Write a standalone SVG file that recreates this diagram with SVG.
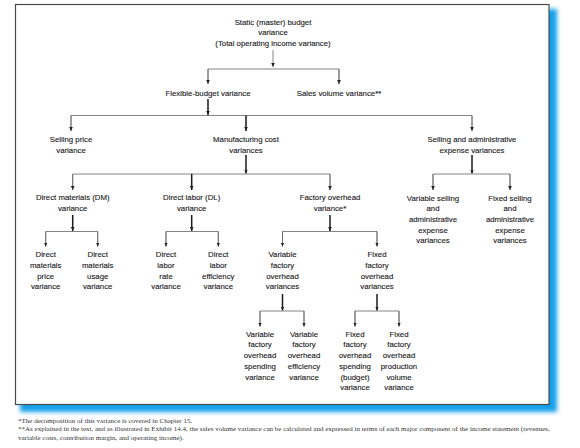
<svg xmlns="http://www.w3.org/2000/svg" width="580" height="448" viewBox="0 0 580 448">
<defs>
<filter id="blur" x="-5%" y="-5%" width="110%" height="110%"><feGaussianBlur stdDeviation="2.2"/></filter>
<marker id="ah" viewBox="0 0 4 4" refX="4" refY="2" markerWidth="4" markerHeight="4" markerUnits="userSpaceOnUse" orient="auto"><path d="M0,0.2 L4,2 L0,3.8 z" fill="#222"/></marker>
</defs>
<style>
.t{font-family:"Liberation Sans",Arial,sans-serif;font-size:7.8px;fill:#1a1a1a;text-anchor:middle;stroke:#1a1a1a;stroke-width:0.12}
.f{font-family:"Liberation Serif","Times New Roman",serif;font-size:7px;fill:#333}
.thin{stroke:#666;stroke-width:0.8;fill:none}
.thick{stroke:#1a1a1a;stroke-width:1.5;fill:none}
.arr{marker-end:url(#ah)}
</style>
<rect width="580" height="448" fill="#fff"/>
<rect x="20" y="9" width="537" height="403" fill="#14a0ea" filter="url(#blur)"/>
<rect x="15.5" y="4.5" width="533.5" height="400" fill="#fff" stroke="#4a4a4a" stroke-width="1.2"/>

<g id="connectors">
<line class="thin arr" x1="273" y1="50" x2="273" y2="67"/>
<path class="thin" d="M208,84 V69 H339 V84"/>
<line class="thin arr" x1="208" y1="69" x2="208" y2="84"/>
<line class="thin arr" x1="339" y1="69" x2="339" y2="84"/>
<line class="thick arr" x1="208" y1="99" x2="208" y2="115"/>
<path class="thin" d="M71,131 V115.5 H472 V131"/>
<line class="thin arr" x1="71" y1="115.5" x2="71" y2="131"/>
<line class="thick arr" x1="246" y1="115.5" x2="246" y2="131"/>
<line class="thin arr" x1="472" y1="115.5" x2="472" y2="131"/>
<line class="thick arr" x1="246" y1="155" x2="246" y2="173.5"/>
<line class="thick arr" x1="472" y1="155" x2="472" y2="173.5"/>
<path class="thin" d="M72.7,190 V174 H330 V190"/>
<line class="thin arr" x1="72.7" y1="174" x2="72.7" y2="190"/>
<line class="thick arr" x1="191.7" y1="174" x2="191.7" y2="190"/>
<line class="thin arr" x1="330" y1="174" x2="330" y2="190"/>
<path class="thin" d="M433,190 V174 H510 V190"/>
<line class="thin arr" x1="433" y1="174" x2="433" y2="190"/>
<line class="thin arr" x1="510" y1="174" x2="510" y2="190"/>
<line class="thick arr" x1="72.7" y1="215" x2="72.7" y2="231"/>
<line class="thick arr" x1="191.7" y1="215" x2="191.7" y2="231"/>
<line class="thick arr" x1="330" y1="215" x2="330" y2="231"/>
<path class="thin" d="M45.7,246.5 V231.5 H97.7 V246.5"/>
<line class="thin arr" x1="45.7" y1="231.5" x2="45.7" y2="246.5"/>
<line class="thin arr" x1="97.7" y1="231.5" x2="97.7" y2="246.5"/>
<path class="thin" d="M166,246.5 V231.5 H218.3 V246.5"/>
<line class="thin arr" x1="166" y1="231.5" x2="166" y2="246.5"/>
<line class="thin arr" x1="218.3" y1="231.5" x2="218.3" y2="246.5"/>
<path class="thin" d="M282.5,246.5 V231.5 H377 V246.5"/>
<line class="thin arr" x1="282.5" y1="231.5" x2="282.5" y2="246.5"/>
<line class="thin arr" x1="377" y1="231.5" x2="377" y2="246.5"/>
<line class="thick arr" x1="282.5" y1="294" x2="282.5" y2="310.5"/>
<line class="thick arr" x1="377" y1="294" x2="377" y2="310.5"/>
<path class="thin" d="M260,326.5 V311 H304 V326.5"/>
<line class="thin arr" x1="260" y1="311" x2="260" y2="326.5"/>
<line class="thin arr" x1="304" y1="311" x2="304" y2="326.5"/>
<path class="thin" d="M355,326.5 V311 H399 V326.5"/>
<line class="thin arr" x1="355" y1="311" x2="355" y2="326.5"/>
<line class="thin arr" x1="399" y1="311" x2="399" y2="326.5"/>
</g>

<g id="static-budget"><text class="t" x="273" y="24.5">Static (master) budget</text><text class="t" x="273" y="35">variance</text><text class="t" x="273" y="45.5">(Total operating income variance)</text></g>
<g id="flexible-budget"><text class="t" x="208" y="95.5">Flexible-budget variance</text></g>
<g id="sales-volume"><text class="t" x="339" y="95.5">Sales volume variance**</text></g>
<g id="selling-price"><text class="t" x="71" y="142">Selling price</text><text class="t" x="71" y="152.5">variance</text></g>
<g id="manufacturing"><text class="t" x="246" y="142">Manufacturing cost</text><text class="t" x="246" y="152.5">variances</text></g>
<g id="selling-admin"><text class="t" x="472" y="142">Selling and administrative</text><text class="t" x="472" y="152.5">expense variances</text></g>
<g id="dm"><text class="t" x="72.7" y="200">Direct materials (DM)</text><text class="t" x="72.7" y="210.7">variance</text></g>
<g id="dl"><text class="t" x="191.7" y="200">Direct labor (DL)</text><text class="t" x="191.7" y="210.7">variance</text></g>
<g id="fo"><text class="t" x="330" y="200">Factory overhead</text><text class="t" x="330" y="210.7">variance*</text></g>
<g id="var-selling"><text class="t" x="433" y="200.5">Variable selling</text><text class="t" x="433" y="211.2">and</text><text class="t" x="433" y="221.9">administrative</text><text class="t" x="433" y="232.6">expense</text><text class="t" x="433" y="243.3">variances</text></g>
<g id="fixed-selling"><text class="t" x="510" y="200.5">Fixed selling</text><text class="t" x="510" y="211.2">and</text><text class="t" x="510" y="221.9">administrative</text><text class="t" x="510" y="232.6">expense</text><text class="t" x="510" y="243.3">variances</text></g>
<g id="dm-price"><text class="t" x="45.7" y="257.3">Direct</text><text class="t" x="45.7" y="268">materials</text><text class="t" x="45.7" y="278.7">price</text><text class="t" x="45.7" y="289.4">variance</text></g>
<g id="dm-usage"><text class="t" x="97.7" y="257.3">Direct</text><text class="t" x="97.7" y="268">materials</text><text class="t" x="97.7" y="278.7">usage</text><text class="t" x="97.7" y="289.4">variance</text></g>
<g id="dl-rate"><text class="t" x="166" y="257.3">Direct</text><text class="t" x="166" y="268">labor</text><text class="t" x="166" y="278.7">rate</text><text class="t" x="166" y="289.4">variance</text></g>
<g id="dl-eff"><text class="t" x="218.3" y="257.3">Direct</text><text class="t" x="218.3" y="268">labor</text><text class="t" x="218.3" y="278.7">efficiency</text><text class="t" x="218.3" y="289.4">variance</text></g>
<g id="var-fo"><text class="t" x="282.5" y="257.3">Variable</text><text class="t" x="282.5" y="268">factory</text><text class="t" x="282.5" y="278.7">overhead</text><text class="t" x="282.5" y="289.4">variances</text></g>
<g id="fixed-fo"><text class="t" x="377" y="257.3">Fixed</text><text class="t" x="377" y="268">factory</text><text class="t" x="377" y="278.7">overhead</text><text class="t" x="377" y="289.4">variances</text></g>
<g id="vfo-spending"><text class="t" x="260" y="336.7">Variable</text><text class="t" x="260" y="347.4">factory</text><text class="t" x="260" y="358.1">overhead</text><text class="t" x="260" y="368.8">spending</text><text class="t" x="260" y="379.5">variance</text></g>
<g id="vfo-eff"><text class="t" x="304" y="336.7">Variable</text><text class="t" x="304" y="347.4">factory</text><text class="t" x="304" y="358.1">overhead</text><text class="t" x="304" y="368.8">efficiency</text><text class="t" x="304" y="379.5">variance</text></g>
<g id="ffo-spending"><text class="t" x="355" y="336.7">Fixed</text><text class="t" x="355" y="347.4">factory</text><text class="t" x="355" y="358.1">overhead</text><text class="t" x="355" y="368.8">spending</text><text class="t" x="355" y="379.5">(budget)</text><text class="t" x="355" y="390.2">variance</text></g>
<g id="ffo-volume"><text class="t" x="399" y="336.7">Fixed</text><text class="t" x="399" y="347.4">factory</text><text class="t" x="399" y="358.1">overhead</text><text class="t" x="399" y="368.8">production</text><text class="t" x="399" y="379.5">volume</text><text class="t" x="399" y="390.2">variance</text></g>

<g id="footnotes">
<text class="f" x="18" y="422.5">*The decomposition of this variance is covered in Chapter 15.</text>
<text class="f" x="18" y="431">**As explained in the text, and as illustrated in Exhibit 14.4, the sales volume variance can be calculated and expressed in terms of each major component of the income statement (revenues,</text>
<text class="f" x="18" y="439.5">variable costs, contribution margin, and operating income).</text>
</g>
</svg>
